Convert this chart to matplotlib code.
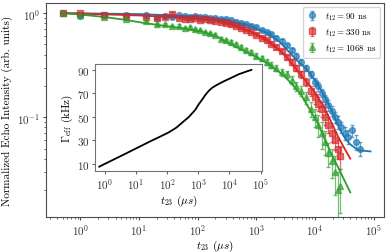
import numpy as np
import matplotlib.pyplot as plt

plt.rcParams['font.family'] = 'serif'
plt.rcParams['font.serif'] = ['cmr10']
plt.rcParams['mathtext.fontset'] = 'cm'
plt.rcParams['axes.formatter.use_mathtext'] = True

# echo data, t23 in us
t_90 = [0.5, 1, 2.5, 6, 13, 20, 28, 37, 48, 60, 75, 90, 110, 135, 165, 200, 250, 300, 370, 450,
        550, 680, 820, 1000, 1250, 1500, 1800, 2200, 2700, 3300, 4000, 4800, 5800, 7000, 8500,
        10000, 11500, 13000, 15000, 17000, 19500, 22000, 25000, 28000, 32000, 37000, 43000, 50000, 58000]
I_90 = [1.0, 0.94, 0.96, 0.95, 0.96, 0.90, 0.94, 0.92, 0.95, 0.93, 0.92, 0.94, 0.91, 0.92, 0.90, 0.89,
        0.88, 0.87, 0.85, 0.83, 0.81, 0.79, 0.76, 0.73, 0.69, 0.66, 0.63, 0.58, 0.54, 0.49, 0.44, 0.39,
        0.34, 0.30, 0.26, 0.22, 0.20, 0.17, 0.15, 0.13, 0.115, 0.10, 0.09, 0.08, 0.07, 0.065, 0.075, 0.058, 0.05]
e_90 = [0.01, 0.02, 0.02, 0.02, 0.02, 0.02, 0.02, 0.02, 0.02, 0.02, 0.02, 0.02, 0.02, 0.02, 0.02, 0.02,
        0.02, 0.02, 0.02, 0.02, 0.02, 0.02, 0.02, 0.02, 0.02, 0.02, 0.02, 0.02, 0.02, 0.02, 0.02, 0.02,
        0.02, 0.02, 0.02, 0.02, 0.02, 0.015, 0.015, 0.015, 0.012, 0.012, 0.012, 0.01, 0.01, 0.01, 0.01, 0.01, 0.008]

t_330 = [0.5, 1, 2.5, 6, 13, 20, 28, 37, 48, 60, 75, 90, 110, 135, 165, 200, 250, 300, 370, 450,
         550, 680, 820, 1000, 1250, 1500, 1800, 2200, 2700, 3300, 4000, 4800, 5800, 7000, 8500,
         10000, 11500, 13000, 15000, 17000, 19500, 22000, 25000, 27000]
I_330 = [1.0, 1.0, 0.95, 0.93, 0.92, 0.90, 0.91, 0.99, 0.89, 0.87, 0.88, 0.90, 0.86, 0.87, 0.85, 0.84,
         0.83, 0.80, 0.78, 0.75, 0.72, 0.69, 0.66, 0.62, 0.58, 0.55, 0.51, 0.47, 0.43, 0.38, 0.34, 0.30,
         0.26, 0.22, 0.18, 0.155, 0.135, 0.12, 0.10, 0.085, 0.07, 0.06, 0.05, 0.042]
e_330 = [0.02, 0.03, 0.02, 0.02, 0.02, 0.02, 0.02, 0.03, 0.02, 0.02, 0.02, 0.02, 0.02, 0.02, 0.02, 0.02,
         0.02, 0.02, 0.02, 0.02, 0.02, 0.02, 0.02, 0.02, 0.02, 0.02, 0.02, 0.02, 0.02, 0.02, 0.02, 0.02,
         0.02, 0.02, 0.02, 0.02, 0.02, 0.02, 0.015, 0.015, 0.012, 0.012, 0.01, 0.01]

t_1068 = [0.5, 1, 2.5, 6, 13, 20, 28, 37, 48, 60, 75, 90, 110, 135, 165, 200, 250, 300, 370, 450,
          550, 680, 820, 1000, 1250, 1500, 1800, 2200, 2700, 3300, 4000, 4800, 5800, 7000, 8500,
          10000, 11500, 13000, 15000, 17000, 19500, 22000, 25000, 27000]
I_1068 = [1.0, 0.95, 0.92, 0.88, 0.84, 0.78, 0.79, 0.75, 0.76, 0.72, 0.73, 0.70, 0.69, 0.66, 0.64, 0.62,
          0.57, 0.55, 0.53, 0.50, 0.47, 0.44, 0.42, 0.39, 0.37, 0.34, 0.32, 0.30, 0.27, 0.26, 0.23, 0.20,
          0.18, 0.155, 0.12, 0.10, 0.085, 0.07, 0.058, 0.045, 0.038, 0.03, 0.02, 0.022]
e_1068 = [0.01, 0.02, 0.02, 0.02, 0.02, 0.02, 0.02, 0.02, 0.02, 0.02, 0.02, 0.02, 0.02, 0.02, 0.02, 0.02,
          0.02, 0.02, 0.02, 0.02, 0.02, 0.02, 0.02, 0.02, 0.02, 0.02, 0.02, 0.02, 0.02, 0.02, 0.02, 0.02,
          0.02, 0.02, 0.02, 0.02, 0.02, 0.02, 0.015, 0.012, 0.012, 0.012, 0.01, 0.01]

# fit curves
tf_90 = [0.5, 10, 112, 250, 400, 800, 1550, 2500, 3400, 5000, 7400, 11000, 15000, 18600, 23000,
         27500, 33000, 40000, 50000, 60000, 89000]
If_90 = [1.0, 0.98, 0.93, 0.88, 0.83, 0.75, 0.64, 0.53, 0.44, 0.35, 0.285, 0.21, 0.155, 0.12, 0.092,
         0.074, 0.062, 0.055, 0.05, 0.048, 0.047]
tf_330 = [0.5, 1, 10, 100, 200, 400, 800, 1550, 2500, 3400, 5600, 9500, 14000, 19000, 24500, 32000, 40000]
If_330 = [1.0, 0.99, 0.95, 0.89, 0.85, 0.77, 0.67, 0.55, 0.44, 0.37, 0.26, 0.18, 0.128, 0.09, 0.066, 0.05, 0.04]
tf_1068 = [0.5, 1, 2.5, 6, 13, 30, 60, 112, 210, 400, 1000, 1550, 3000, 5600, 11000, 18600, 27000, 40000]
If_1068 = [1.0, 0.97, 0.92, 0.86, 0.80, 0.75, 0.71, 0.67, 0.60, 0.49, 0.38, 0.33, 0.25, 0.17, 0.089, 0.046, 0.03, 0.019]

# inset: effective linewidth
t_g = [0.66, 1, 2, 3, 5, 11.5, 30, 60, 115, 200, 300, 500, 800, 1050, 1400, 1700, 2200, 2750, 3500,
       4500, 7000, 10000, 20000, 35000, 51000]
g_eff = [7.7, 10.1, 14, 16.3, 19.2, 24, 29.5, 33.3, 37, 41, 45, 50, 56, 61, 65.5, 68.8, 72.3, 74.6,
         76.4, 78, 80.6, 82.5, 86.3, 88.6, 90]

fig = plt.figure(figsize=(3.89, 2.53), dpi=100)
ax = fig.add_axes([0.118, 0.138, 0.869, 0.846])

series = [(t_90, I_90, e_90, tf_90, If_90, 'tab:blue', 'o', r'$t_{12} = 90$ ns'),
          (t_330, I_330, e_330, tf_330, If_330, 'tab:red', 's', r'$t_{12} = 330$ ns'),
          (t_1068, I_1068, e_1068, tf_1068, If_1068, 'tab:green', '^', r'$t_{12} = 1068$ ns')]
for t, I, e, tf, If, c, m, lab in series:
    ax.errorbar(t, I, yerr=e, fmt=m, color=c, ms=4.2, alpha=0.65, capsize=1.5, elinewidth=0.9, label=lab)
    ax.plot(tf, If, color=c, lw=1.3)

ax.set_xscale('log')
ax.set_yscale('log')
ax.set_xlim(0.26, 1.5e5)
ax.set_ylim(0.011, 1.25)
ax.set_xlabel(r'$t_{23}$ ($\mu s$)', fontsize=8, labelpad=0)
ax.set_ylabel('Normalized Echo Intensity (arb. units)', fontsize=8, labelpad=3)
ax.tick_params(which='major', length=2.5, pad=1.5)
ax.tick_params(which='minor', length=1.5)
ax.tick_params(which='both', labelsize=8, colors='0.3', labelcolor='0.2')
for s in ax.spines.values():
    s.set_color('0.3')
ax.legend(loc='upper right', fontsize=6.5, handlelength=1.2, borderaxespad=0.4)

axi = fig.add_axes([0.244, 0.320, 0.429, 0.423])
axi.plot(t_g, g_eff, color='k', lw=1.3)
axi.set_xscale('log')
axi.set_xlim(0.48, 1.1e5)
axi.set_ylim(4, 95)
axi.set_yticks([10, 30, 50, 70, 90])
axi.set_xticks([1, 10, 100, 1e3, 1e4, 1e5])
axi.minorticks_off()
axi.set_xlabel(r'$t_{23}$ ($\mu s$)', fontsize=8, labelpad=1)
axi.set_ylabel(r'$\Gamma_{\rm eff}$ (kHz)', fontsize=8, labelpad=1)
axi.tick_params(length=2.5, pad=1.5, labelsize=8, colors='0.4', labelcolor='0.2')
for s in axi.spines.values():
    s.set_color('0.45')

fig.savefig('out.png', dpi=100)
